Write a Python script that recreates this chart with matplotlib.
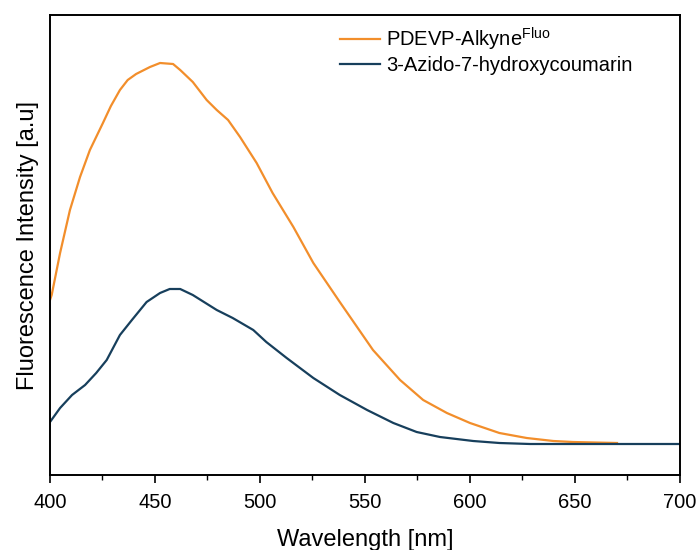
import matplotlib.pyplot as plt
from matplotlib.ticker import MultipleLocator

plt.rcParams['font.family'] = ['Liberation Sans', 'DejaVu Sans']
plt.rcParams['mathtext.fontset'] = 'custom'
plt.rcParams['mathtext.rm'] = 'Liberation Sans'

# Emission spectra (intensity in a.u., baseline = 0)
wl_alkyne = [400, 400.8, 404.8, 409.5, 414.3, 419, 425.2, 429, 433.3, 437, 441, 447.6, 452.4,
             458.6, 462, 468, 474.6, 479.4, 484.8, 490.5, 498.4, 506, 515.9, 525.4, 538,
             553.8, 566.7, 577.7, 589, 600, 614, 627, 639.7, 649, 670]
int_alkyne = [144, 149, 191, 234, 267, 294, 321, 338, 354, 364, 370, 377, 381,
              380, 374, 362, 344, 334, 324, 307, 281, 251, 217, 181, 142,
              94, 64, 44, 31, 21, 11, 6, 3, 2, 1]

wl_coum = [400, 404.8, 410.5, 416.7, 422, 427, 433.3, 439, 446, 452.4, 457, 462, 468,
           479.4, 487, 496.8, 503, 512.7, 525.4, 538, 551, 563.5, 574.6, 585.7, 601.5,
           614, 628.6, 700]
int_coum = [22, 36, 49, 59, 71, 84, 109, 124, 142, 151, 155, 155, 149,
            134, 126, 114, 102, 86, 66, 49, 34, 21, 12, 7, 3,
            1, 0, 0]

fig = plt.figure(figsize=(6.99, 5.5), dpi=100)
ax = fig.add_axes([50 / 699, 75 / 550, 630 / 699, 460 / 550])

ax.plot(wl_alkyne, int_alkyne, color='#F28E2B', linewidth=1.6,
        label='PDEVP-Alkyne$^{\\mathregular{Fluo}}$')
ax.plot(wl_coum, int_coum, color='#173F5C', linewidth=1.6,
        label='3-Azido-7-hydroxycoumarin')

ax.set_xlim(400, 700)
ax.set_ylim(-31, 429)
ax.xaxis.set_major_locator(MultipleLocator(50))
ax.xaxis.set_minor_locator(MultipleLocator(25))
ax.set_yticks([])
ax.tick_params(axis='x', which='major', direction='out', length=6, width=1.2,
               labelsize=14.5, pad=7)
ax.tick_params(axis='x', which='minor', direction='out', length=3.5, width=1.0)
for s in ax.spines.values():
    s.set_linewidth(1.4)

ax.set_xlabel('Wavelength [nm]', fontsize=17, labelpad=12)
ax.set_ylabel('Fluorescence Intensity [a.u]', fontsize=17, labelpad=8)

ax.legend(loc='upper left', frameon=False, fontsize=14.5, handlelength=2.0,
          handletextpad=0.3, labelspacing=0.15, borderaxespad=0,
          bbox_to_anchor=(282 / 630, 0.995))

fig.savefig('out.png', dpi=100)
